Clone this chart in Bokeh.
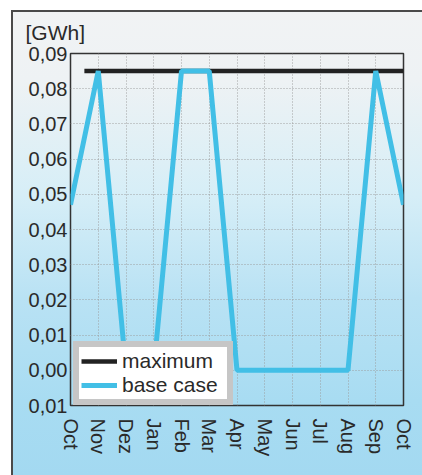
from bokeh.plotting import figure
from bokeh.models import FixedTicker, Legend, Range1d
from bokeh.embed import file_html
from bokeh.resources import INLINE

# ---- data ----
months = ["Oct", "Nov", "Dez", "Jan", "Feb", "Mar", "Apr", "May", "Jun", "Jul", "Aug", "Sep", "Oct"]
month_pos = [0, 1, 2, 3, 4, 5, 6, 7, 8, 9, 10, 11, 12]
base_case = [0.047, 0.085, 0.0, 0.0, 0.085, 0.085, 0.0, 0.0, 0.0, 0.0, 0.0, 0.085, 0.047]
maximum_x = [0.5, 12]
maximum_y = [0.085, 0.085]
y_ticks = [-0.01, 0.0, 0.01, 0.02, 0.03, 0.04, 0.05, 0.06, 0.07, 0.08, 0.09]
y_tick_labels = ["0,01", "0,00", "0,01", "0,02", "0,03", "0,04", "0,05", "0,06", "0,07", "0,08", "0,09"]
unit_label = "[GWh]"

FONT = "Liberation Sans"
TXT = "#2a2a2a"

bg = ("linear-gradient(#4a4a4a,#4a4a4a) 11px 10px / calc(100% - 11px) 2px no-repeat, "
      "linear-gradient(#4a4a4a,#4a4a4a) 11px 10px / 2px calc(100% - 10px) no-repeat, "
      "linear-gradient(180deg, #f1f3f4 0%, #eef2f4 15%, #d6eef7 40%, #b9e2f4 62%, #a8dcf2 84%, #a3d9f1 100%) "
      "11px 10px / calc(100% - 11px) calc(100% - 10px) no-repeat, #ffffff")

p = figure(width=422, height=475, output_backend="svg", toolbar_location=None,
           x_range=Range1d(0, 12), y_range=Range1d(-0.01, 0.09),
           min_border_left=70, min_border_right=19, min_border_top=53, min_border_bottom=70,
           border_fill_color=None, background_fill_color=None,
           styles={"background": bg})

p.outline_line_color = "#333333"
p.outline_line_width = 1.5

p.title.text = unit_label
p.title.align = "left"
p.title.offset = -45
p.title.vertical_align = "top"
p.title.text_font = FONT
p.title.text_font_size = "21px"
p.title.text_font_style = "normal"
p.title.text_color = TXT
p.title.standoff = 15

# axes
p.xaxis.ticker = FixedTicker(ticks=month_pos)
p.xaxis.major_label_overrides = {pos: m for pos, m in zip(month_pos, months)}
p.xaxis.major_label_orientation = "vertical"
p.yaxis.ticker = FixedTicker(ticks=y_ticks)
p.yaxis.major_label_overrides = {t: l for t, l in zip(y_ticks, y_tick_labels)}
for ax in (p.xaxis[0], p.yaxis[0]):
    ax.axis_line_color = None
    ax.major_tick_line_color = None
    ax.minor_tick_line_color = None
    ax.major_tick_out = 0
    ax.major_tick_in = 0
    ax.major_label_text_font = FONT
    ax.major_label_text_font_size = "20px"
    ax.major_label_text_color = TXT
p.xaxis.major_label_standoff = 13
p.yaxis.major_label_standoff = 3

# grid
for g in (p.xgrid[0], p.ygrid[0]):
    g.grid_line_color = "#9a9a9a"
    g.grid_line_dash = "1 2"
    g.grid_line_width = 1
    g.grid_line_alpha = 0.9
p.xgrid.ticker = FixedTicker(ticks=month_pos)
p.ygrid.ticker = FixedTicker(ticks=y_ticks)

r_max = p.line(maximum_x, maximum_y, line_color="#222222", line_width=4.5)
r_base = p.line(month_pos, base_case, line_color="#42bfe6", line_width=5)

legend = Legend(items=[("maximum", [r_max]), ("base case", [r_base])],
                location=(3, 0))
legend.border_line_color = "#8e8e8e"
legend.border_line_width = 6
legend.background_fill_color = "#ffffff"
legend.background_fill_alpha = 1
legend.label_text_font = FONT
legend.label_text_font_size = "21px"
legend.label_text_color = TXT
legend.glyph_width = 36
legend.glyph_height = 18
legend.label_height = 18
legend.label_width = 103
legend.label_standoff = 5
legend.padding = 2
legend.spacing = -10
legend.margin = 0
p.add_layout(legend, "center")

open("out.html", "w").write(file_html(p, INLINE))
